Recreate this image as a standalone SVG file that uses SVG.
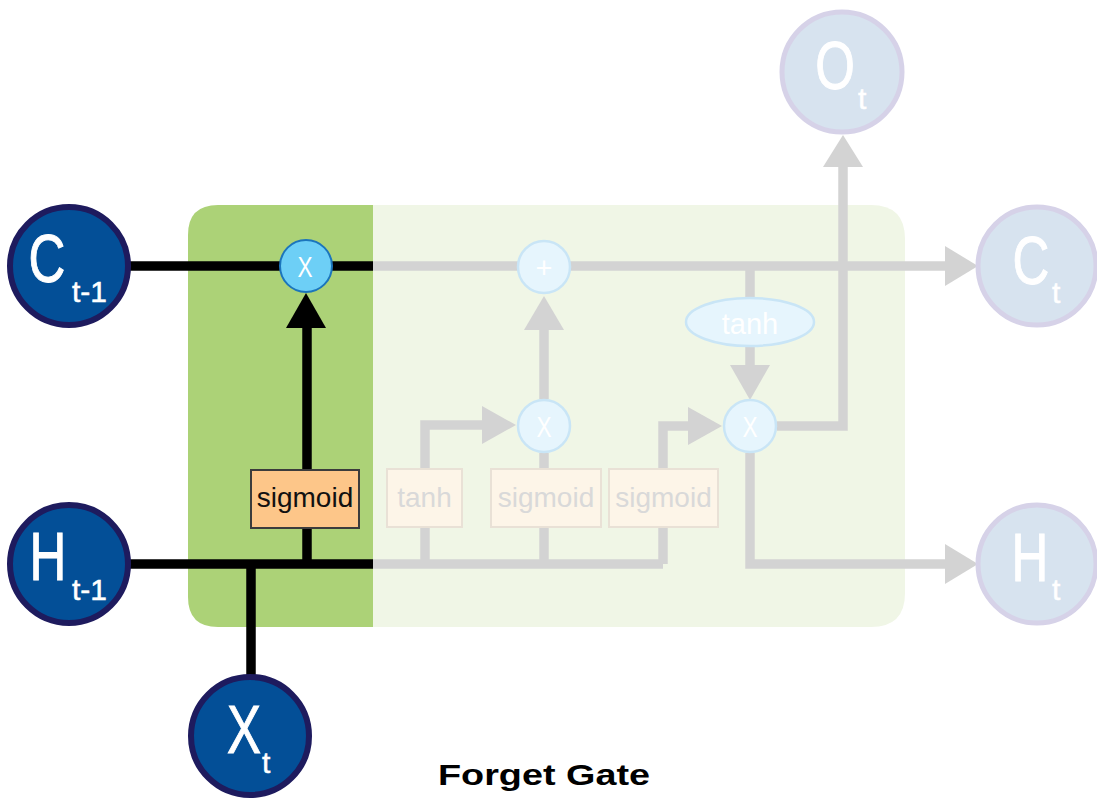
<svg xmlns="http://www.w3.org/2000/svg" width="1097" height="799" viewBox="0 0 1097 799">
  <style>
    .io { fill: #034f97; stroke: #1e1b5e; stroke-width: 6; }
    .io-faded { fill: #d7e3ef; stroke: #d6d2e8; stroke-width: 5; }
    .big { font-family: "Liberation Sans", Arial, sans-serif; font-size: 68px; fill: #ffffff; stroke: #ffffff; stroke-width: 1; text-anchor: middle; }
    .sub { font-family: "Liberation Sans", Arial, sans-serif; font-size: 30px; fill: #ffffff; stroke: #ffffff; stroke-width: 0.5; }
    .op { fill: #6dcff6; stroke: #1b75bc; stroke-width: 2; }
    .op-faded { fill: #e6f5fd; stroke: #c9e5f6; stroke-width: 2.5; }
    .optext { font-family: "Liberation Sans", Arial, sans-serif; font-size: 29px; fill: #ffffff; text-anchor: middle; }
    .box { fill: #fdc689; stroke: #3c3c3c; stroke-width: 2; }
    .box-faded { fill: #fdf5e8; stroke: #e9e1d6; stroke-width: 2; }
    .boxtext { font-family: "Liberation Sans", Arial, sans-serif; font-size: 28px; fill: #111111; text-anchor: middle; }
    .boxtext-faded { font-family: "Liberation Sans", Arial, sans-serif; font-size: 28px; fill: #d9d9d9; text-anchor: middle; }
    .wire { fill: none; stroke: #000000; stroke-width: 9.5; }
    .wire-faded { fill: none; stroke: #d3d3d3; stroke-width: 9.5; }
    .head { fill: #000000; }
    .head-faded { fill: #d3d3d3; }
  </style>

  <!-- cell background: active forget-gate section and faded remainder -->
  <g id="cell">
    <path d="M373,205 H871 Q905,205 905,239 V593 Q905,627 871,627 H373 Z" fill="#f0f6e6"/>
    <path d="M218,205 H373 V627 H218 Q188,627 188,597 V235 Q188,205 218,205 Z" fill="#acd277"/>
  </g>

  <!-- connectors -->
  <g id="connectors">
    <!-- faded paths -->
    <path class="wire-faded" d="M373,266 H948"/>
    <polygon class="head-faded" points="945,246 978,266 945,286"/>
    <path class="wire-faded" d="M373,564 H663"/>
    <path class="wire-faded" d="M425,564 V527 M544,564 V527 M663,564 V527"/>
    <path class="wire-faded" d="M425,469 V425 H486"/>
    <polygon class="head-faded" points="482,406 516,425 482,444"/>
    <path class="wire-faded" d="M544,469 V453"/>
    <path class="wire-faded" d="M544,399 V326"/>
    <polygon class="head-faded" points="524,330 544,296 564,330"/>
    <path class="wire-faded" d="M663,469 V426 H692"/>
    <polygon class="head-faded" points="688,407 722,426 688,445"/>
    <path class="wire-faded" d="M750,266 V298"/>
    <path class="wire-faded" d="M750,346 V368"/>
    <polygon class="head-faded" points="730,365 750,400 770,365"/>
    <path class="wire-faded" d="M777,426 H843 V163"/>
    <polygon class="head-faded" points="823,167 843,135 863,167"/>
    <path class="wire-faded" d="M750,453 V564 H948"/>
    <polygon class="head-faded" points="945,544 978,564 945,584"/>

    <!-- active forget-gate paths -->
    <path class="wire" d="M130,266 H373"/>
    <path class="wire" d="M130,564 H373"/>
    <path class="wire" d="M251,564 V676"/>
    <path class="wire" d="M307,564 V528"/>
    <path class="wire" d="M307,470 V324"/>
    <polygon class="head" points="286,328 306,293 326,328"/>
  </g>

  <!-- inputs -->
  <g id="node-c-prev">
    <circle class="io" cx="69" cy="266" r="59"/>
    <text class="big" transform="translate(47,282) scale(0.75,1)">C</text>
    <text class="sub" x="72" y="302">t-1</text>
  </g>
  <g id="node-h-prev">
    <circle class="io" cx="69" cy="564" r="59"/>
    <text class="big" transform="translate(48,580) scale(0.75,1)">H</text>
    <text class="sub" x="72" y="600">t-1</text>
  </g>
  <g id="node-x">
    <circle class="io" cx="250" cy="736" r="59"/>
    <text class="big" transform="translate(244,753) scale(0.75,1)">X</text>
    <text class="sub" x="262" y="773">t</text>
  </g>

  <!-- forget gate -->
  <g id="node-forget-mult">
    <circle class="op" cx="306" cy="266" r="26"/>
    <text class="optext" transform="translate(305,277) scale(0.78,1)">X</text>
  </g>
  <g id="node-forget-sigmoid">
    <rect class="box" x="251" y="470" width="108" height="58"/>
    <text class="boxtext" x="305" y="507">sigmoid</text>
  </g>

  <!-- faded remainder of the cell -->
  <g id="node-input-tanh">
    <rect class="box-faded" x="387" y="469" width="75" height="58"/>
    <text class="boxtext-faded" x="424.5" y="507">tanh</text>
  </g>
  <g id="node-input-sigmoid">
    <rect class="box-faded" x="491" y="469" width="110" height="58"/>
    <text class="boxtext-faded" x="546" y="507">sigmoid</text>
  </g>
  <g id="node-output-sigmoid">
    <rect class="box-faded" x="609" y="469" width="109" height="58"/>
    <text class="boxtext-faded" x="663.5" y="507">sigmoid</text>
  </g>
  <g id="node-input-mult">
    <circle class="op-faded" cx="544" cy="426" r="26"/>
    <text class="optext" transform="translate(544,437) scale(0.78,1)">X</text>
  </g>
  <g id="node-add">
    <circle class="op-faded" cx="544" cy="267" r="26"/>
    <text class="optext" x="544" y="278">+</text>
  </g>
  <g id="node-cell-tanh">
    <ellipse class="op-faded" cx="750" cy="322" rx="64" ry="24"/>
    <text class="optext" x="750" y="334" font-size="33">tanh</text>
  </g>
  <g id="node-output-mult">
    <circle class="op-faded" cx="750" cy="426" r="26"/>
    <text class="optext" transform="translate(750,437) scale(0.78,1)">X</text>
  </g>

  <!-- outputs -->
  <g id="node-o">
    <circle class="io-faded" cx="842" cy="72" r="60"/>
    <text class="big" transform="translate(835,89) scale(0.75,1)">O</text>
    <text class="sub" x="858" y="109">t</text>
  </g>
  <g id="node-c">
    <circle class="io-faded" cx="1037" cy="266" r="59"/>
    <text class="big" transform="translate(1031,284) scale(0.75,1)">C</text>
    <text class="sub" x="1052" y="303">t</text>
  </g>
  <g id="node-h">
    <circle class="io-faded" cx="1037" cy="564" r="59"/>
    <text class="big" transform="translate(1030,581) scale(0.75,1)">H</text>
    <text class="sub" x="1052" y="600">t</text>
  </g>

  <!-- caption -->
  <g id="caption">
    <text x="438" y="785" font-family="Liberation Sans, Arial, sans-serif" font-size="30" font-weight="bold" fill="#000000" textLength="212" lengthAdjust="spacingAndGlyphs">Forget Gate</text>
  </g>
</svg>
